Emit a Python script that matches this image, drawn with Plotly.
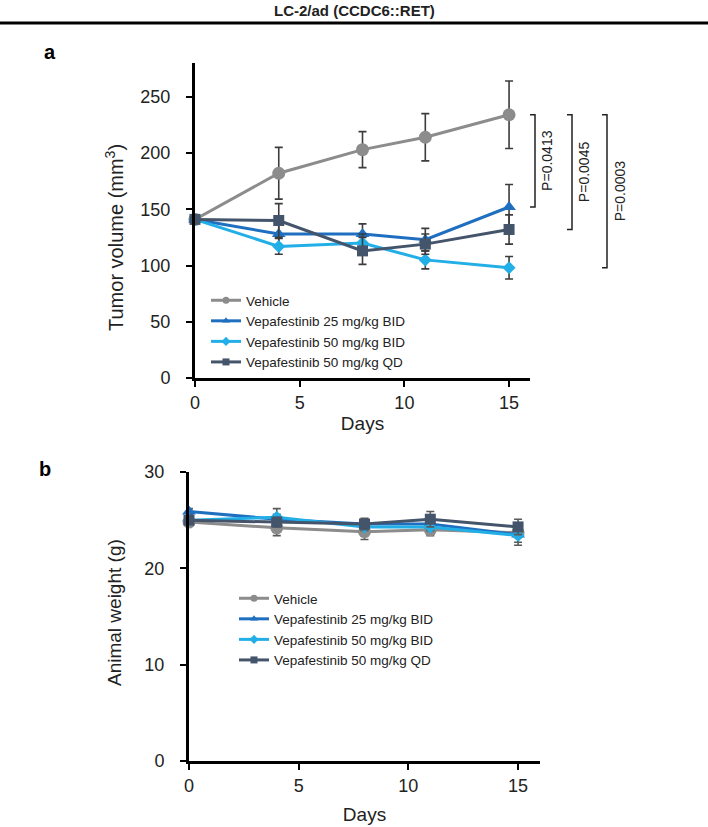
import plotly.graph_objects as go

W, H = 708, 827

days = [0, 4, 8, 11, 15]
groups = ["Vehicle", "Vepafestinib 25 mg/kg BID", "Vepafestinib 50 mg/kg BID", "Vepafestinib 50 mg/kg QD"]

# panel a - tumour volume (mm3)
vol_vehicle = [141, 182, 203, 214, 234]
vol_25bid = [141, 128, 128, 123, 152]
vol_50bid = [141, 117, 120, 105, 98]
vol_50qd = [141, 140, 113, 119, 132]
vol_err_vehicle = [3, 23, 16, 21, 30]
vol_err_25bid = [3, 10, 9, 10, 20]
vol_err_50bid = [3, 7, 8, 8, 10]
vol_err_50qd = [3, 15, 12, 9, 13]

# panel b - animal weight (g)
wt_vehicle = [24.8, 24.2, 23.8, 24.0, 23.7]
wt_25bid = [25.9, 25.1, 24.6, 24.6, 23.5]
wt_50bid = [25.0, 25.3, 24.3, 24.3, 23.4]
wt_50qd = [25.0, 24.8, 24.6, 25.1, 24.3]
wt_err_vehicle = [0.3, 0.8, 0.8, 0.6, 0.5]
wt_err_25bid = [0.3, 0.5, 0.5, 0.5, 0.8]
wt_err_50bid = [0.3, 0.9, 0.4, 0.4, 1.0]
wt_err_50qd = [0.3, 0.5, 0.6, 0.8, 0.8]

p_values = ["P=0.0413", "P=0.0045", "P=0.0003"]

colors = ["#8c8c8c", "#1f6fc0", "#22aee6", "#44546a"]
symbols = ["circle", "triangle-up", "diamond", "square"]
sizes = [13, 12, 10, 11]
FONT = "Liberation Sans, Arial, sans-serif"

vols = [vol_vehicle, vol_25bid, vol_50bid, vol_50qd]
vol_errs = [vol_err_vehicle, vol_err_25bid, vol_err_50bid, vol_err_50qd]
wts = [wt_vehicle, wt_25bid, wt_50bid, wt_50qd]
wt_errs = [wt_err_vehicle, wt_err_25bid, wt_err_50bid, wt_err_50qd]

fig = go.Figure()

panels = [("x", "y", "legend", vols, vol_errs, "#3c3c3c"),
          ("x2", "y2", "legend2", wts, wt_errs, "#5a5a5a")]
for xa, ya, lg, vals, errs, ecol in panels:
    for i, name in enumerate(groups):
        fig.add_trace(go.Scatter(
            x=days, y=vals[i], name=name, mode="lines+markers", showlegend=False,
            line=dict(color=colors[i], width=3),
            marker=dict(symbol=symbols[i], size=sizes[i], color=colors[i]),
            error_y=dict(type="data", array=errs[i], color=ecol, thickness=1.6, width=4),
            cliponaxis=False, xaxis=xa, yaxis=ya,
        ))
    # legend entries with small markers, as in the original
    for i, name in enumerate(groups):
        fig.add_trace(go.Scatter(
            x=[None], y=[None], name=name, mode="lines+markers", showlegend=True,
            line=dict(color=colors[i], width=3),
            marker=dict(symbol=symbols[i], size=7, color=colors[i]),
            xaxis=xa, yaxis=ya, legend=lg,
        ))

axis_style = dict(
    showline=True, linecolor="black", linewidth=3, ticks="outside",
    ticklen=6, tickwidth=2, tickcolor="black", showgrid=False, zeroline=False,
    tickfont=dict(family=FONT, size=18, color="#222"), automargin=False,
)

fig.update_layout(
    width=W, height=H,
    margin=dict(l=0, r=0, t=0, b=0),
    paper_bgcolor="white", plot_bgcolor="white",
    font=dict(family=FONT, color="#222"),
    xaxis=dict(domain=[195 / W, 530 / W], range=[0, 16], dtick=5, anchor="y",
               title=dict(text="Days", font=dict(size=19), standoff=6), **axis_style),
    yaxis=dict(domain=[1 - 378 / H, 1 - 63 / H], range=[0, 280], tickvals=[0, 50, 100, 150, 200, 250], anchor="x",
               ticklabelstandoff=12, **axis_style),
    xaxis2=dict(domain=[189 / W, 540 / W], range=[0, 16], dtick=5, anchor="y2",
                title=dict(text="Days", font=dict(size=19), standoff=14), **axis_style),
    yaxis2=dict(domain=[1 - 761 / H, 1 - 472 / H], range=[0, 30], dtick=10, anchor="x2",
                ticklabelstandoff=12, **axis_style),
    legend=dict(x=206 / W, y=1 - 285 / H, xanchor="left", yanchor="top", bgcolor="rgba(0,0,0,0)",
                font=dict(family=FONT, size=13.5, color="#222"), tracegroupgap=0, itemwidth=30),
    legend2=dict(x=234 / W, y=1 - 583 / H, xanchor="left", yanchor="top", bgcolor="rgba(0,0,0,0)",
                 font=dict(family=FONT, size=13.5, color="#222"), tracegroupgap=0, itemwidth=30),
)

# y-axis titles placed as in the original (not centred on the axis)
fig.add_annotation(text="Tumor volume (mm<sup>3</sup>)", x=114 / W, y=1 - 237 / H, xref="paper", yref="paper",
                   xanchor="center", yanchor="middle", textangle=-90, showarrow=False,
                   font=dict(size=20, color="#222"))
fig.add_annotation(text="Animal weight (g)", x=114 / W, y=1 - 612 / H, xref="paper", yref="paper",
                   xanchor="center", yanchor="middle", textangle=-90, showarrow=False,
                   font=dict(size=19, color="#222"))

# header
fig.add_annotation(text="<b>LC-2/ad (CCDC6::RET)</b>", x=354 / W, y=1 - 11 / H, xref="paper", yref="paper",
                   xanchor="center", yanchor="middle", showarrow=False, font=dict(size=15, color="#222"))
fig.add_shape(type="line", x0=0, x1=1, y0=1 - 23 / H, y1=1 - 23 / H, xref="paper", yref="paper",
              line=dict(color="black", width=3))
fig.add_annotation(text="<b>a</b>", x=50 / W, y=1 - 52 / H, xref="paper", yref="paper",
                   xanchor="center", yanchor="middle", showarrow=False, font=dict(size=20, color="black"))
fig.add_annotation(text="<b>b</b>", x=45 / W, y=1 - 469 / H, xref="paper", yref="paper",
                   xanchor="center", yanchor="middle", showarrow=False, font=dict(size=20, color="black"))

# significance brackets: vehicle vs each treatment at day 15
top = vol_vehicle[-1]
ends = [vol_25bid[-1], vol_50qd[-1], vol_50bid[-1]]
bracket_x = [535 / W, 572 / W, 607 / W]
text_x = [547 / W, 584 / W, 620 / W]
tick = 5 / W
for bx, tx, bottom, label in zip(bracket_x, text_x, ends, p_values):
    fig.add_shape(type="path", xref="paper", yref="y",
                  path=f"M {bx - tick} {top} L {bx} {top} L {bx} {bottom} L {bx - tick} {bottom}",
                  line=dict(color="#222", width=1.5))
    fig.add_annotation(text=label, x=tx, y=(top + bottom) / 2, xref="paper", yref="y",
                       xanchor="center", yanchor="middle", textangle=-90, showarrow=False,
                       font=dict(size=14, color="#222"))

fig.write_html("out.html", config={"displayModeBar": False},
               post_script="document.body.style.margin='0';")
